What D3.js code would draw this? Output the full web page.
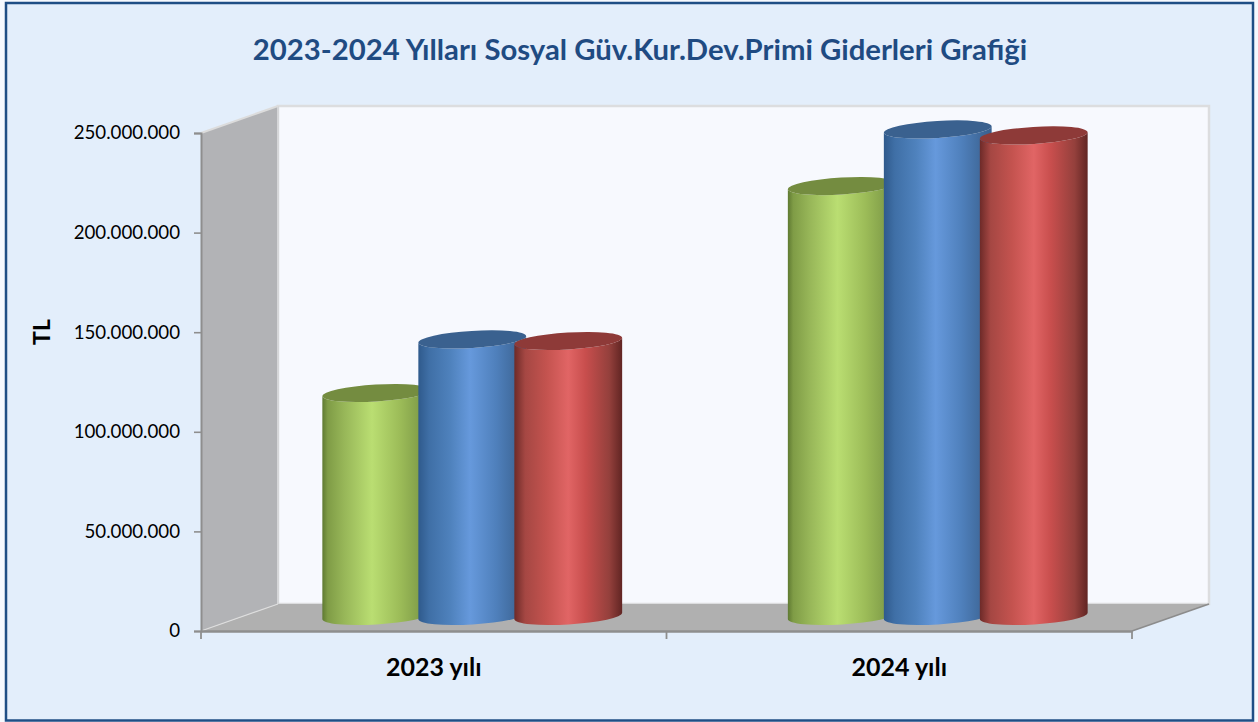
<!DOCTYPE html>
<html><head><meta charset="utf-8">
<script src="https://cdn.jsdelivr.net/npm/d3@7/dist/d3.min.js"></script>
<style>html,body{margin:0;padding:0;background:#f6f9fe}svg{display:block}
text{font-family:Lato,"Open Sans",sans-serif}</style></head><body>
<svg id="c" width="1258" height="722"></svg>
<script>
const categories = ["2023 yılı", "2024 yılı"];
const seriesNames = ["A", "B", "C"];
const seriesValues = {
  A: [112700000, 216600000],
  B: [139600000, 245000000],
  C: [138800000, 242000000]
};
const yTicks = [0, 50000000, 100000000, 150000000, 200000000, 250000000];
const titleText = "2023-2024 Yılları Sosyal Güv.Kur.Dev.Primi Giderleri Grafiği";
const yTitle = "TL";

const palette = {
  A: {top:"#748c40", stops:[[0,"#5f7a32"],[.05,"#7f9c46"],[.2,"#97b658"],[.46,"#bade72"],[.72,"#9cbc58"],[.92,"#7f9c48"],[1,"#6f8a3c"]]},
  B: {top:"#3a618f", stops:[[0,"#2f5a8c"],[.1,"#3f6fa6"],[.3,"#4f82bd"],[.48,"#6699dc"],[.72,"#4f80bc"],[.92,"#3e6798"],[1,"#38608f"]]},
  C: {top:"#8e3a38", stops:[[0,"#6d2a28"],[.1,"#a54743"],[.3,"#c4534f"],[.5,"#e16565"],[.66,"#c84e4d"],[.88,"#94403c"],[1,"#612523"]]}
};

const W = 1258, H = 722;
const svg = d3.select("#c");
const depth = {x: 77, y: -27};
const x0 = d3.scaleBand().domain(categories).range([201, 1132]);
const y = d3.scaleLinear().domain([0, 250000000]).range([631, 133]);
const xS = d3.scaleBand().domain(seriesNames).range([-144, 144]);
const fmt = d3.formatLocale({decimal:",", thousands:".", grouping:[3], currency:["","TL"]}).format(",d");

// frame
svg.append("rect").attr("x",6).attr("y",3).attr("width",1247).attr("height",717.5)
  .attr("fill","#e3eefb").attr("stroke","#1f4e85").attr("stroke-width",2.5);

svg.append("text").attr("x",640).attr("y",60).attr("text-anchor","middle")
  .attr("font-size",29.3).attr("font-weight",700).attr("fill","#1f4b82").text(titleText);

const xL = x0.range()[0], xR = x0.range()[1], yB = y(0), yT = y(250000000);
const poly = pts => pts.map(p=>p.join(",")).join(" ");
// back wall
svg.append("rect").attr("x",xL+depth.x).attr("y",yT+depth.y).attr("width",xR-xL).attr("height",yB-yT)
  .attr("fill","#f7f9fe").attr("stroke","#dcdddf").attr("stroke-width",2.5);
// side wall
svg.append("polygon").attr("points",poly([[xL,yT],[xL+depth.x,yT+depth.y],[xL+depth.x,yB+depth.y],[xL,yB]]))
  .attr("fill","#b2b3b6");
svg.append("line").attr("x1",xL+depth.x).attr("x2",xL+depth.x).attr("y1",yT+depth.y).attr("y2",yB+depth.y)
  .attr("stroke","#d5d6d8").attr("stroke-width",2);
svg.append("line").attr("x1",xL).attr("x2",xL+depth.x).attr("y1",yT).attr("y2",yT+depth.y)
  .attr("stroke","#dcdcdc").attr("stroke-width",2);
// floor
svg.append("polygon").attr("points",poly([[xL,yB],[xL+depth.x,yB+depth.y],[xR+depth.x,yB+depth.y],[xR,yB]]))
  .attr("fill","#b0b0b0");
svg.append("line").attr("x1",xL).attr("x2",xL+depth.x).attr("y1",yB).attr("y2",yB+depth.y)
  .attr("stroke","#dedede").attr("stroke-width",1.2);
svg.append("line").attr("x1",xR).attr("x2",xR+depth.x).attr("y1",yB).attr("y2",yB+depth.y)
  .attr("stroke","#8c8c8c").attr("stroke-width",1.6);

// axes
const yAxis = d3.axisLeft(y).tickValues(yTicks).tickFormat(fmt).tickSize(7).tickPadding(14);
const gy = svg.append("g").attr("transform",`translate(${xL},0)`).call(yAxis);
gy.selectAll(".domain").attr("stroke","#8e8e8e").attr("stroke-width",2);
gy.selectAll("line").attr("stroke","#8e8e8e").attr("stroke-width",1.6);
gy.selectAll("text").attr("font-size",18.7).attr("fill","#000").attr("font-family","Lato");

const gx = svg.append("g").attr("transform",`translate(0,${yB})`)
  .call(d3.axisBottom(x0).tickSize(0).tickPadding(0));
gx.selectAll(".domain").attr("stroke","#8e8e8e").attr("stroke-width",2.4);
gx.selectAll("text").attr("font-size",25).attr("font-weight",700).attr("fill","#000")
  .attr("font-family","Lato").attr("y",45).attr("dy",0);
const tickXs = [xL, ...categories.map(c=>x0(c)+x0.bandwidth())];
gx.selectAll("line.edge").data(tickXs).join("line").attr("class","edge")
  .attr("x1",d=>d).attr("x2",d=>d).attr("y1",0).attr("y2",8)
  .attr("stroke","#8e8e8e").attr("stroke-width",1.8);

svg.append("text").attr("transform","translate(50,332) rotate(-90)").attr("text-anchor","middle")
  .attr("font-size",23).attr("font-weight",700).attr("fill","#000").text(yTitle);

// gradients
const defs = svg.append("defs");
seriesNames.forEach(s=>{
  const g = defs.append("linearGradient").attr("id","g"+s).attr("x1",0).attr("x2",1).attr("y1",0).attr("y2",0);
  palette[s].stops.forEach(st=>g.append("stop").attr("offset",st[0]).attr("stop-color",st[1]));
});

// cylinders
const rx = 54, ry = 8.5, tilt = -3.5;
const tr = tilt*Math.PI/180;
const ex = rx*Math.cos(tr), ey = rx*Math.sin(tr);
const baseOff = -depth.y/2;
const baseY = yB - baseOff - 1.5;
const bars = svg.append("g");
categories.forEach((c,i)=>{
  seriesNames.forEach(s=>{
    const cx = x0(c)+x0.bandwidth()/2+depth.x/2+xS(s)+xS.bandwidth()/2;
    const yTop = y(seriesValues[s][i]) - baseOff;
    const d = `M${cx-ex},${yTop-ey} L${cx-ex},${baseY-ey} A${rx},${ry} ${tilt} 0 0 ${cx+ex},${baseY+ey} L${cx+ex},${yTop+ey} A${rx},${ry} ${tilt} 0 1 ${cx-ex},${yTop-ey} Z`;
    bars.append("path").attr("d",d).attr("fill",`url(#g${s})`);
    bars.append("ellipse").attr("cx",0).attr("cy",0).attr("rx",rx).attr("ry",ry)
      .attr("transform",`translate(${cx},${yTop}) rotate(${tilt})`).attr("fill",palette[s].top);
  });
});
</script></body></html>
